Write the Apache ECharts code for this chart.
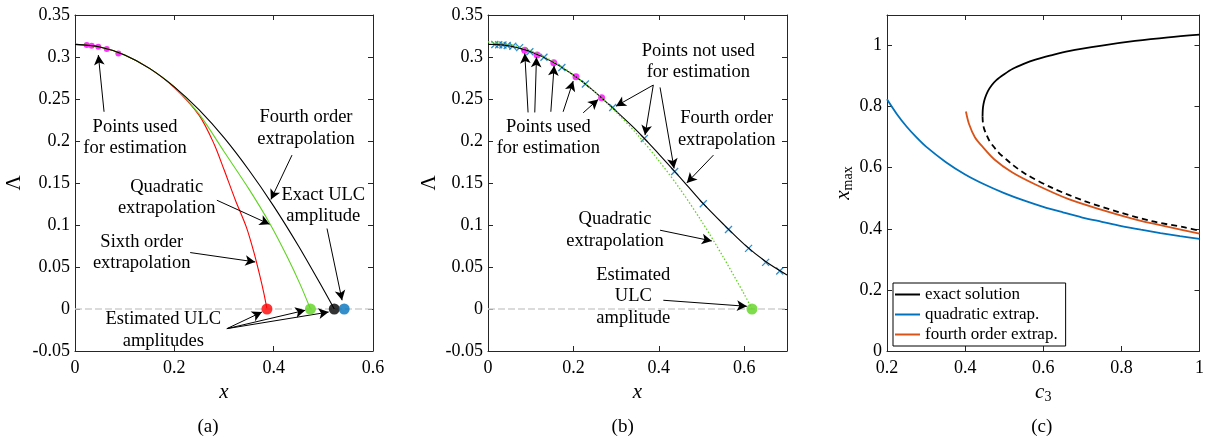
<!DOCTYPE html>
<html><head><meta charset="utf-8">
<script src="https://cdn.jsdelivr.net/npm/echarts@6/dist/echarts.min.js"></script>
<style>html,body{margin:0;padding:0;background:#fff}#c{width:1207px;height:441px}</style>
</head><body><div id="c"></div><script>
// ---------------- DATA ----------------
// Panel (a)
const aFourthX = [0,0.05,0.1,0.15,0.2,0.25,0.3,0.35,0.4,0.45,0.5,0.522];
const aFourthY = [0.315,0.312,0.3025,0.2865,0.2645,0.237,0.204,0.1655,0.1225,0.075,0.0235,0];
const aQuadX = [0,0.05,0.1,0.15,0.2,0.25,0.3,0.35,0.393,0.427,0.4536,0.474];
const aQuadY = [0.315,0.312,0.3025,0.2865,0.2645,0.232,0.1875,0.143,0.101,0.0625,0.029,0];
const aSixthX = [0,0.05,0.1,0.15,0.2,0.25,0.28,0.3,0.323,0.345,0.36,0.372,0.38,0.3865];
const aSixthY = [0.315,0.312,0.3025,0.2865,0.2635,0.2305,0.1965,0.166,0.1295,0.0975,0.068,0.04,0.0195,0];
const aUsedX = [0.0236,0.0336,0.047,0.064,0.0873];
const aUsedY = [0.3142,0.3134,0.3122,0.3095,0.3043];
const aEndX = [0.3865,0.474,0.522,0.542];   // sixth, quadratic, fourth, exact
const aEndY = [0,0,0,0];
// Panel (b)
const bExactX = [0,0.02,0.05,0.1,0.15,0.2,0.25,0.3,0.35,0.4,0.45,0.5,0.55,0.6,0.65,0.7];
const bExactY = [0.315,0.3148,0.3132,0.3063,0.2945,0.2785,0.2585,0.2355,0.2115,0.1845,0.1565,0.1275,0.1015,0.077,0.0565,0.0405];
const bQuadX = [0,0.05,0.1,0.15,0.2,0.25,0.3,0.35,0.4,0.45,0.5,0.55,0.6,0.618];
const bQuadY = [0.318,0.315,0.3075,0.2955,0.279,0.2585,0.2345,0.2075,0.1765,0.1425,0.1045,0.0625,0.0175,0];
const bCrossX = [0.016,0.025,0.035,0.045,0.058,0.074,0.098,0.131,0.173,0.228,0.292,0.366,0.437,0.504,0.563,0.61,0.65,0.683];
const bCrossY = [0.3149,0.3146,0.3142,0.3136,0.3128,0.3112,0.3063,0.2998,0.2875,0.2678,0.2398,0.203,0.1636,0.1252,0.0946,0.0722,0.0555,0.0452];
const bUsedX = [0.086,0.115,0.154,0.206,0.266];
const bUsedY = [0.308,0.3023,0.2931,0.2765,0.2514];
const bEndX = [0.618];
const bEndY = [0];
// Panel (c)
const cUpX = [0.4446,0.4452,0.447,0.451,0.458,0.468,0.48,0.5,0.522,0.55,0.58,0.62,0.665,0.75,0.835,0.92,1];
const cUpY = [0.768,0.79,0.808,0.828,0.85,0.87,0.887,0.906,0.924,0.94,0.954,0.968,0.982,1.0,1.015,1.027,1.036];
const cLowX = [0.4446,0.4455,0.4485,0.455,0.4614,0.4717,0.4869,0.5056,0.521,0.5566,0.623,0.7078,0.7928,0.8777,0.9626,1];
const cLowY = [0.768,0.748,0.728,0.707,0.69,0.671,0.648,0.627,0.61,0.578,0.534,0.49,0.455,0.425,0.4045,0.394];
const cQuadX = [0.2,0.225,0.25,0.275,0.3,0.35,0.4,0.45,0.5,0.55,0.6,0.65,0.7,0.75,0.8,0.85,0.9,0.95,1];
const cQuadY = [0.824,0.776,0.735,0.7,0.669,0.619,0.578,0.545,0.517,0.493,0.472,0.454,0.437,0.423,0.409,0.397,0.386,0.376,0.367];
const cFourX = [0.402,0.41,0.425,0.445,0.475,0.52,0.58,0.665,0.75,0.835,0.92,1];
const cFourY = [0.784,0.743,0.7,0.668,0.627,0.585,0.545,0.497,0.462,0.431,0.406,0.384];
const cLegend = ['exact solution','quadratic extrap.','fourth order extrap.'];

// ---------------- HELPERS ----------------
const FONT = '"Liberation Serif", "DejaVu Serif", "Times New Roman", serif';
const zip = (xs, ys) => xs.map((x, i) => [x, ys[i]]);
const AX = '#262626';
function fmt(interval){
  return v => {
    const r = v / interval;
    if (Math.abs(r - Math.round(r)) > 1e-6) return '';
    return String(parseFloat(v.toFixed(4)));
  };
}
const richName = {
  i:{fontFamily:FONT, fontSize:21, fontStyle:'italic', color:'#000'},
  s:{fontFamily:FONT, fontSize:14, fontStyle:'normal', color:'#000', padding:[10,0,0,0]}
};
function xPair(gi, min, max, interval, name, nameGap){
  const base = {type:'value', gridIndex:gi, min, max, interval,
    axisLine:{show:true, onZero:false, lineStyle:{color:AX, width:1}},
    axisTick:{show:true, inside:true, length:5, lineStyle:{color:AX, width:1}},
    splitLine:{show:false}};
  return [
    Object.assign({}, base, {position:'bottom',
      axisLabel:{show:true, color:'#000', fontFamily:FONT, fontSize:18, margin:8, formatter:fmt(interval)},
      name, nameLocation:'middle', nameGap,
      nameTextStyle:{color:'#000', fontFamily:FONT, fontSize:21, fontStyle:'italic', rich:richName}}),
    Object.assign({}, base, {position:'top', axisLabel:{show:false}})
  ];
}
function yPair(gi, min, max, interval, name, nameGap){
  const base = {type:'value', gridIndex:gi, min, max, interval,
    axisLine:{show:true, onZero:false, lineStyle:{color:AX, width:1}},
    axisTick:{show:true, inside:true, length:5, lineStyle:{color:AX, width:1}},
    splitLine:{show:false}};
  return [
    Object.assign({}, base, {position:'left',
      axisLabel:{show:true, color:'#000', fontFamily:FONT, fontSize:18, margin:5, formatter:fmt(interval)},
      name, nameLocation:'middle', nameGap,
      nameTextStyle:{color:'#000', fontFamily:FONT, fontSize:21, rich:richName}}),
    Object.assign({}, base, {position:'right', axisLabel:{show:false}})
  ];
}
function lineS(name, xi, data, color, width, extra){
  return Object.assign({type:'line', name, xAxisIndex:xi, yAxisIndex:xi, data,
    showSymbol:false, symbol:'none', smooth:0.3, animation:false, silent:true,
    lineStyle:{color, width}, itemStyle:{color}}, extra || {});
}
function arrows(list){
  return {silent:true, symbol:['none','arrow'], symbolSize:[8,10], animation:false,
    lineStyle:{color:'#000', width:1, type:'solid'}, label:{show:false},
    data:list.map(p => [{coord:p[0]},{coord:p[1]}])};
}
const zeroLine = {silent:true, symbol:['none','none'], animation:false,
  lineStyle:{color:'#cfcfcf', width:1.5, type:[7,3]}, label:{show:false}, data:[{yAxis:0}]};

// ---------------- ANNOTATIONS ----------------
const annA = [
  [[0.0585,0.2348],[0.047,0.3023]],
  [[0.4369,0.1832],[0.3945,0.1304]],
  [[0.2857,0.1295],[0.3918,0.1009]],
  [[0.2319,0.0672],[0.3629,0.056]],
  [[0.5074,0.0958],[0.5377,0.0104]],
  [[0.3058,-0.0234],[0.3764,-0.0036]],
  [[0.3058,-0.0234],[0.4637,-0.0015]],
  [[0.3058,-0.0234],[0.5107,-0.0036]]
];
const annB = [
  [[0.0938,0.234],[0.0861,0.3043]],
  [[0.1095,0.234],[0.1135,0.2996]],
  [[0.1471,0.2348],[0.1548,0.2896]],
  [[0.1759,0.2348],[0.1994,0.2713]],
  [[0.2229,0.2336],[0.258,0.2495]],
  [[0.387,0.2666],[0.2996,0.2415]],
  [[0.387,0.2666],[0.3676,0.207]],
  [[0.4028,0.2638],[0.4356,0.1673]],
  [[0.5278,0.1832],[0.4654,0.1501]],
  [[0.4028,0.0938],[0.524,0.081]],
  [[0.4105,0.0104],[0.6061,0.0032]]
];
const texts = [
  ['Points used\nfor estimation',135,137.5],
  ['Fourth order\nextrapolation',306,128],
  ['Quadratic\nextrapolation',166.7,197.5],
  ['Exact ULC\namplitude',323.3,205.5],
  ['Sixth order\nextrapolation',141.7,252.5],
  ['Estimated ULC\namplitudes',163.3,330],
  ['Points not used\nfor estimation',698.3,61.5],
  ['Points used\nfor estimation',548.3,137.5],
  ['Fourth order\nextrapolation',726.7,129],
  ['Quadratic\nextrapolation',615,230],
  ['Estimated\nULC\namplitude',633.3,296.5]
];
const panelTags = [['(a)',208,427],['(b)',622.7,427],['(c)',1041.7,427]];

const endColors = ['#ff0000','#5fd31f','#000000','#0072bd'];
const xa = xPair(0, 0, 0.6, 0.2, 'x', 24);
const xb = xPair(1, 0, 0.7, 0.2, 'x', 24);
const xc = xPair(2, 0.2, 1, 0.2, '{i|c}{s|3}', 21);
const ya = yPair(0, -0.05, 0.35, 0.05, 'Λ', 50);
const yb = yPair(1, -0.05, 0.35, 0.05, 'Λ', 48);
const yc = yPair(2, 0, 1.1, 0.2, '{i|x}{s|max}', 27);

const mkText = (t, size) => ({type:'text', x:t[1], y:t[2], silent:true, z:50,
  style:{text:t[0], fill:'#000', fontFamily:FONT, fontSize:size, lineHeight:21.5,
    align:'center', verticalAlign:'middle'}});

const option = {
  animation:false,
  backgroundColor:'#fff',
  grid:[
    {left:75, top:15, width:298, height:336, containLabel:false},
    {left:488, top:15, width:299, height:336, containLabel:false},
    {left:887, top:15, width:314, height:336, containLabel:false}
  ],
  xAxis:[...xa, ...xb, ...xc],
  yAxis:[...ya, ...yb, ...yc],
  legend:{show:true, orient:'vertical', left:893, top:283, itemWidth:25, itemHeight:2, itemGap:3,
    icon:'rect', padding:[3,8,3,2], borderColor:'#000', borderWidth:1, backgroundColor:'#fff',
    textStyle:{fontFamily:FONT, fontSize:17, color:'#000'}, data:cLegend, selectedMode:false},
  graphic: texts.map(t => mkText(t, 18.5)).concat(panelTags.map(t => mkText(t, 19))),
  series:[
    // (a)
    lineS('sixth', 0, zip(aSixthX, aSixthY), '#ff0000', 1.1, {markLine:zeroLine}),
    lineS('quadA', 0, zip(aQuadX, aQuadY), '#5fd31f', 1.1),
    lineS('fourthA', 0, zip(aFourthX, aFourthY), '#000', 1.1, {markLine:arrows(annA)}),
    {type:'scatter', name:'usedA', xAxisIndex:0, yAxisIndex:0, data:zip(aUsedX, aUsedY),
      symbol:'circle', symbolSize:6, itemStyle:{color:'#ff00ff'}, silent:true, animation:false},
    {type:'scatter', name:'endA', xAxisIndex:0, yAxisIndex:0, z:5,
      data:zip(aEndX, aEndY).map((p, i) => ({value:p, itemStyle:{color:endColors[i]}})),
      symbol:'circle', symbolSize:11, silent:true, animation:false},
    // (b)
    lineS('exactB', 2, zip(bExactX, bExactY), '#000', 1.1, {markLine:zeroLine}),
    lineS('quadB', 2, zip(bQuadX, bQuadY), '#5fd31f', 1.3, {lineStyle:{color:'#5fd31f', width:1.3, type:[1.5,2]}, markLine:arrows(annB)}),
    {type:'scatter', name:'crossB', xAxisIndex:2, yAxisIndex:2, data:zip(bCrossX, bCrossY),
      symbol:'path://M0,0L10,10M10,0L0,10', symbolSize:7,
      itemStyle:{color:'rgba(0,0,0,0)', borderColor:'#0072bd', borderWidth:1.3}, silent:true, animation:false},
    {type:'scatter', name:'usedB', xAxisIndex:2, yAxisIndex:2, data:zip(bUsedX, bUsedY),
      symbol:'circle', symbolSize:7, itemStyle:{color:'#ff00ff'}, silent:true, animation:false},
    {type:'scatter', name:'endB', xAxisIndex:2, yAxisIndex:2, data:zip(bEndX, bEndY), z:5,
      symbol:'circle', symbolSize:11, itemStyle:{color:'#5fd31f'}, silent:true, animation:false},
    // (c)
    lineS(cLegend[1], 4, zip(cQuadX, cQuadY), '#0072bd', 1.8),
    lineS(cLegend[2], 4, zip(cFourX, cFourY), '#d95319', 1.8),
    lineS('exact dashed', 4, zip(cLowX, cLowY), '#000', 1.8, {lineStyle:{color:'#000', width:1.8, type:[6,4]}}),
    lineS(cLegend[0], 4, zip(cUpX, cUpY), '#000', 1.8)
  ]
};
const chart = echarts.init(document.getElementById('c'), null, {renderer:'canvas'});
chart.setOption(option);
</script></body></html>
